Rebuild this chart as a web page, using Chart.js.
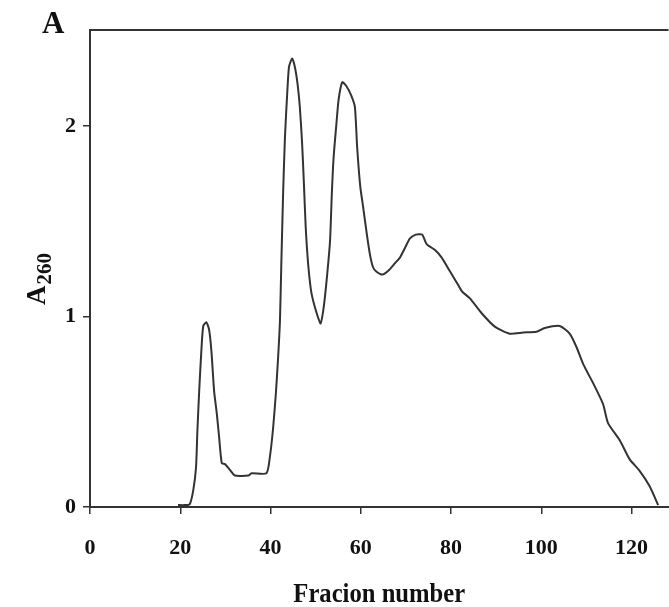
<!DOCTYPE html>
<html>
<head>
<meta charset="utf-8">
<script src="https://cdn.jsdelivr.net/npm/chart.js@4.4.1/dist/chart.umd.min.js"></script>
<style>
  html, body { margin: 0; padding: 0; background: #fff; }
  #wrap { width: 669px; height: 607px; }
</style>
</head>
<body>
<div id="wrap"><canvas id="chart-a260"></canvas></div>
<script>
// fraction number vs absorbance at 260 nm
const fractions = [
  19.5, 21, 22.1, 22.9, 23.5, 23.8, 24.2, 24.7, 25.1, 25.8, 26.4, 26.9, 27.5, 28.1, 28.6, 29.2,
  29.9, 31, 32.1, 35.1, 35.8, 39.1, 39.9, 40.6, 41.2, 41.7, 42.1, 42.4, 42.8, 43.2, 43.7, 44.1,
  44.8, 45.4, 46.0, 46.5, 47.0, 47.4, 47.8, 48.4, 49.1, 50.2, 51.1, 51.8, 52.6, 53.2, 53.6, 54.0,
  54.6, 55.1, 55.9, 56.8, 57.9, 58.7, 59.2, 59.9, 60.5, 61.3, 62.0, 62.7, 63.5, 64.8, 66.1, 67.6,
  68.7, 69.8, 70.9, 72.2, 73.6, 74.6, 76.4, 77.9, 79.7, 81.6, 82.5, 84.2, 86.8, 89.7, 93.0, 96.0,
  98.9, 100.8, 104.1, 106.3, 107.8, 109.3, 111.5, 113.7, 114.8, 117.4, 119.6, 121.8, 124.0, 125.9
];
const a260 = [
  0.01, 0.01, 0.015, 0.09, 0.21, 0.40, 0.61, 0.83, 0.95, 0.97, 0.93, 0.82, 0.61, 0.49, 0.37, 0.23,
  0.225, 0.195, 0.165, 0.165, 0.177, 0.177, 0.27, 0.42, 0.60, 0.79, 0.98, 1.28, 1.65, 1.94, 2.17, 2.31,
  2.355, 2.31, 2.22, 2.10, 1.91, 1.70, 1.47, 1.26, 1.12, 1.02, 0.964, 1.05, 1.23, 1.40, 1.65, 1.84,
  2.01, 2.14, 2.23, 2.21, 2.16, 2.10, 1.89, 1.68, 1.58, 1.44, 1.33, 1.26, 1.235, 1.22, 1.24, 1.28,
  1.31, 1.36, 1.41, 1.43, 1.43, 1.38, 1.35, 1.31, 1.24, 1.165, 1.13, 1.095, 1.017, 0.947, 0.91, 0.916,
  0.92, 0.94, 0.95, 0.91, 0.84, 0.75, 0.65, 0.54, 0.44, 0.35, 0.25, 0.19, 0.11, 0.01
];
const xTicks = [0, 20, 40, 60, 80, 100, 120];
const yTicks = [0, 1, 2];

const SERIF = "'Liberation Serif', 'DejaVu Serif', serif";
const INK = "#333";


// ------------------------------
// EXTRA TEXT + TOP FRAME LINE
// ------------------------------

const decorations = {
  id: "decorations",
  afterDraw(chart) {
    const ctx = chart.ctx;
    const area = chart.chartArea;
    ctx.save();

    // top frame line
    ctx.strokeStyle = INK;
    ctx.lineWidth = 2;
    ctx.beginPath();
    ctx.moveTo(area.left, area.top);
    ctx.lineTo(area.right, area.top);
    ctx.stroke();

    ctx.fillStyle = "#111";
    ctx.textBaseline = "alphabetic";

    // panel letter
    ctx.font = "bold 31px " + SERIF;
    ctx.textAlign = "left";
    ctx.fillText("A", 42, 33);

    // x title, a bit condensed like the source
    ctx.save();
    ctx.translate((area.left + area.right) / 2, 602);
    ctx.scale(0.88, 1);
    ctx.font = "bold 28px " + SERIF;
    ctx.textAlign = "center";
    ctx.fillText("Fracion number", 0, 0);
    ctx.restore();

    // y title: A with subscript 260, rotated
    ctx.translate(45, 305);
    ctx.rotate(-Math.PI / 2);
    ctx.textAlign = "left";
    ctx.font = "bold 27px " + SERIF;
    ctx.fillText("A", 0, 0);
    const w = ctx.measureText("A").width;
    ctx.font = "bold 21px " + SERIF;
    ctx.fillText("260", w + 1, 6);

    ctx.restore();
  }
};


// ------------------------------
// INITIALIZE CHART
// ------------------------------

new Chart(document.getElementById("chart-a260"), {
  type: "scatter",
  data: {
    datasets: [{
      data: fractions.map((f, i) => ({ x: f, y: a260[i] })),
      showLine: true,
      borderColor: INK,
      borderWidth: 2,
      pointRadius: 0,
      tension: 0.2
    }]
  },
  options: {
    responsive: true,
    maintainAspectRatio: false,
    animation: false,
    layout: { padding: { top: 30, left: 0, right: 0, bottom: 0 } },
    plugins: { legend: { display: false }, tooltip: { enabled: false } },
    scales: {
      x: {
        type: "linear",
        min: 0,
        max: 128.2,
        afterFit: s => { s.height = 100; },
        afterBuildTicks: s => { s.ticks = xTicks.map(v => ({ value: v })); },
        grid: { drawOnChartArea: false, drawTicks: true, tickLength: 7, color: INK, lineWidth: 1.5 },
        border: { color: INK, width: 2 },
        ticks: { color: "#111", padding: 21, maxRotation: 0, font: { family: SERIF, size: 22, weight: "bold" } }
      },
      y: {
        type: "linear",
        min: 0,
        max: 2.504,
        afterFit: s => { s.width = 90; },
        afterBuildTicks: s => { s.ticks = yTicks.map(v => ({ value: v })); },
        grid: { drawOnChartArea: false, drawTicks: true, tickLength: 7, color: INK, lineWidth: 1.5 },
        border: { color: INK, width: 2 },
        ticks: { color: "#111", padding: 7, font: { family: SERIF, size: 22, weight: "bold" } }
      }
    }
  },
  plugins: [decorations]
});
</script>
</body>
</html>
